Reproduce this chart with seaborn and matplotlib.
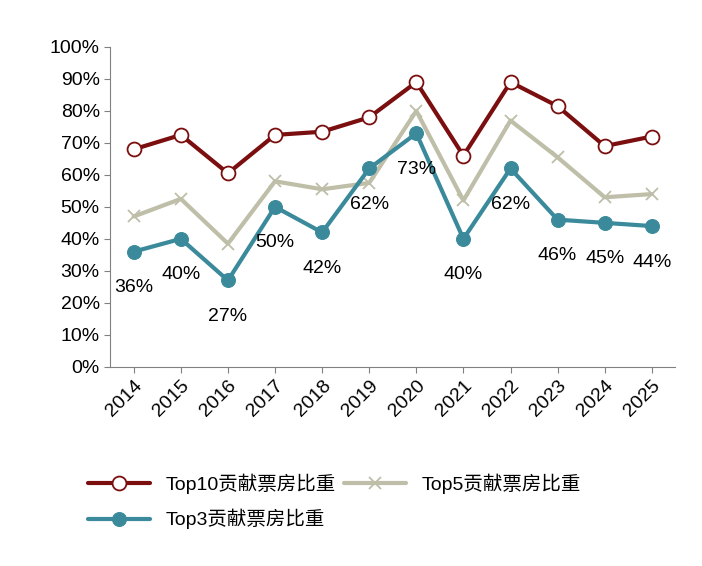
import pandas as pd
import matplotlib.pyplot as plt
import seaborn as sns

years = [2014, 2015, 2016, 2017, 2018, 2019, 2020, 2021, 2022, 2023, 2024, 2025]
top10 = [68, 72.5, 60.5, 72.5, 73.5, 78, 89, 66, 89, 81.5, 69, 72]
top5 = [47, 52.5, 38.5, 58, 55.5, 57.5, 80, 52, 77, 65.5, 53, 54]
top3 = [36, 40, 27, 50, 42, 62, 73, 40, 62, 46, 45, 44]

sns.set_style("white")
plt.rcParams['font.family'] = ['Liberation Sans', 'Noto Sans CJK SC', 'DejaVu Sans']
plt.rcParams['text.color'] = "black"
plt.rcParams['xtick.color'] = "black"
plt.rcParams['ytick.color'] = "black"

fig = plt.figure(figsize=(7.02, 5.66), dpi=100)
ax = fig.add_axes([0.157, 0.352, 0.805, 0.565])

df = pd.DataFrame({"x": range(len(years)), "t10": top10, "t5": top5, "t3": top3})

sns.lineplot(data=df, x="x", y="t10", ax=ax, color="#7B0E0E", lw=3, marker="o",
             markersize=10, markerfacecolor="white", markeredgecolor="#7B0E0E",
             markeredgewidth=1.3, label="Top10贡献票房比重")
sns.lineplot(data=df, x="x", y="t5", ax=ax, color="#BFBEA8", lw=3, marker="x",
             markersize=8, markeredgecolor="#BFBEA8", markeredgewidth=1.3,
             label="Top5贡献票房比重")
sns.lineplot(data=df, x="x", y="t3", ax=ax, color="#3A8A9B", lw=3, marker="o",
             markersize=10, markeredgecolor="#3A8A9B", label="Top3贡献票房比重")

for i, v in enumerate(top3):
    ax.annotate(f"{v:.0f}%", (i, v), xytext=(0, -26), textcoords="offset points",
                ha="center", va="center", fontsize=14)

ax.set_xlim(-0.5, len(years) - 0.5)
ax.set_ylim(0, 100)
ax.set_yticks(range(0, 101, 10))
ax.set_yticklabels([f"{t}%" for t in range(0, 101, 10)], fontsize=14)
ax.set_xticks(range(len(years)))
ax.set_xticklabels([str(y) for y in years], rotation=45, ha="right",
                   rotation_mode="anchor", fontsize=14)
ax.set_xlabel("")
ax.set_ylabel("")
for s in ["top", "right"]:
    ax.spines[s].set_visible(False)
for s in ["left", "bottom"]:
    ax.spines[s].set_color("#808080")
ax.tick_params(axis="both", length=4, color="#808080", direction="out",
               bottom=True, left=True)

ax.get_legend().remove()
h, l = ax.get_legend_handles_labels()
order = [0, 2, 1]
fig.legend([h[i] for i in order], [l[i] for i in order], loc="upper left",
           bbox_to_anchor=(0.1, 0.195), ncol=2, frameon=False, fontsize=14,
           handlelength=3.2, columnspacing=0.4, labelspacing=0.8)

fig.savefig("out.png")
